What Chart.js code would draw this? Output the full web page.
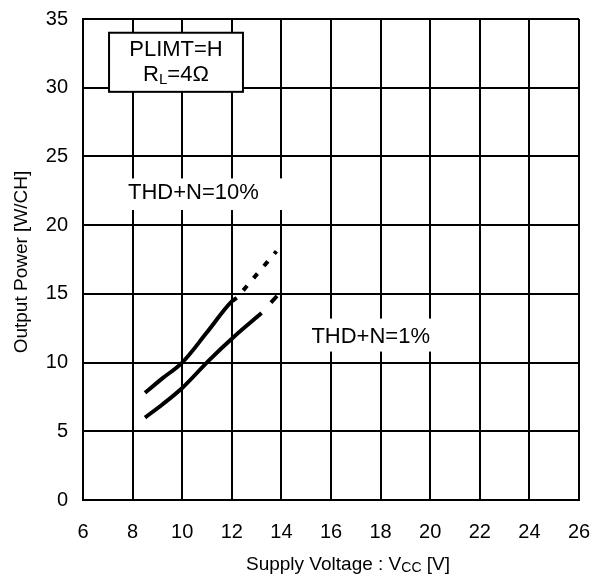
<!DOCTYPE html>
<html>
<head>
<meta charset="utf-8">
<script src="https://cdn.jsdelivr.net/npm/chart.js@4.4.0/dist/chart.umd.min.js"></script>
<style>
  html, body { margin: 0; padding: 0; background: #fff; }
  #wrap { width: 591px; height: 577px; }
</style>
</head>
<body>
<div id="wrap"><canvas id="chart" width="591" height="577"></canvas></div>
<script>
// curves (Vcc in V, Pout in W/CH)
var vcc10 = [8.5, 9.2, 10, 11, 12, 12.2];
var pout10 = [7.8, 8.85, 10.0, 12.2, 14.45, 14.7];
var vcc10ext = [12.2, 13.8];
var pout10ext = [14.7, 18.1];

var vcc1 = [8.5, 9.2, 10, 11.1, 12.1, 13.2];
var pout1 = [6.0, 6.95, 8.15, 10.2, 11.9, 13.6];
var vcc1ext = [13.2, 13.9];
var pout1ext = [13.6, 15.0];

var xTicks = [6, 8, 10, 12, 14, 16, 18, 20, 22, 24, 26];
var yTicks = [0, 5, 10, 15, 20, 25, 30, 35];

var FONT = '"Liberation Sans", Arial, sans-serif';

function pts(xs, ys) {
    var out = [];
    for (var i = 0; i < xs.length; i++) out.push({ x: xs[i], y: ys[i] });
    return out;
}

// white label boxes and text placed in data coordinates
var labels = [
    { x0: 7.05, x1: 12.45, y0: 29.7, y1: 34.0, border: true },
    { x0: 7.5, x1: 14.2, y0: 21.1, y1: 23.4, border: false, text: 'THD+N=10%', tx: 10.45, ty: 22.35 },
    { x0: 14.8, x1: 20.2, y0: 10.8, y1: 13.2, border: false, text: 'THD+N=1%', tx: 17.6, ty: 11.9 }
];

var notes = {
    id: 'notes',
    beforeDatasetsDraw: function (chart) {
        var ctx = chart.ctx, xs = chart.scales.x, ys = chart.scales.y;
        ctx.save();
        labels.forEach(function (b) {
            var l = xs.getPixelForValue(b.x0), r = xs.getPixelForValue(b.x1);
            var t = ys.getPixelForValue(b.y1), btm = ys.getPixelForValue(b.y0);
            ctx.fillStyle = '#fff';
            ctx.fillRect(l, t, r - l, btm - t);
            if (b.border) {
                ctx.strokeStyle = '#000';
                ctx.lineWidth = 2;
                ctx.strokeRect(l, t, r - l, btm - t);
            }
            if (b.text) {
                ctx.fillStyle = '#000';
                ctx.font = '22px ' + FONT;
                ctx.textAlign = 'center';
                ctx.textBaseline = 'middle';
                ctx.fillText(b.text, xs.getPixelForValue(b.tx), ys.getPixelForValue(b.ty));
            }
        });
        // PLIMT box text
        ctx.fillStyle = '#000';
        ctx.font = '22px ' + FONT;
        ctx.textAlign = 'center';
        ctx.textBaseline = 'middle';
        var cx = xs.getPixelForValue(9.75);
        ctx.fillText('PLIMT=H', cx, ys.getPixelForValue(32.75));
        // R_L=4Ω with subscript
        var y2 = ys.getPixelForValue(30.95);
        var wR = ctx.measureText('R').width;
        ctx.font = '15px ' + FONT;
        var wL = ctx.measureText('L').width;
        ctx.font = '22px ' + FONT;
        var wRest = ctx.measureText('=4Ω').width;
        var sx = cx - (wR + wL + wRest) / 2;
        ctx.textAlign = 'left';
        ctx.fillText('R', sx, y2);
        ctx.font = '15px ' + FONT;
        ctx.fillText('L', sx + wR, y2 + 5);
        ctx.font = '22px ' + FONT;
        ctx.fillText('=4Ω', sx + wR + wL, y2);
        ctx.restore();
    },
    afterDraw: function (chart) {
        var ctx = chart.ctx;
        ctx.save();
        ctx.fillStyle = '#000';
        ctx.textBaseline = 'middle';
        // x title with subscript
        ctx.font = '19px ' + FONT;
        var a = 'Supply Voltage : V', c = ' [V]';
        var wa = ctx.measureText(a).width, wc = ctx.measureText(c).width;
        ctx.font = '14px ' + FONT;
        var wb = ctx.measureText('CC').width;
        var x = 348 - (wa + wb + wc) / 2, y = 565;
        ctx.textAlign = 'left';
        ctx.font = '19px ' + FONT;
        ctx.fillText(a, x, y);
        ctx.font = '14px ' + FONT;
        ctx.fillText('CC', x + wa, y + 3);
        ctx.font = '19px ' + FONT;
        ctx.fillText(c, x + wa + wb, y);
        // y title
        ctx.translate(22, 262);
        ctx.rotate(-Math.PI / 2);
        ctx.textAlign = 'center';
        ctx.fillText('Output Power [W/CH]', 0, 0);
        ctx.restore();
    }
};

var lineStyle = {
    borderColor: '#000',
    borderWidth: 4,
    pointRadius: 0,
    fill: false,
    cubicInterpolationMode: 'monotone',
    borderCapStyle: 'butt'
};

new Chart(document.getElementById('chart'), {
    type: 'line',
    data: {
        datasets: [
            Object.assign({ label: 'THD+N=10%', data: pts(vcc10, pout10) }, lineStyle),
            Object.assign({ label: 'THD+N=10% ext', data: pts(vcc10ext, pout10ext), borderDash: [6, 10], borderDashOffset: 6 }, lineStyle),
            Object.assign({ label: 'THD+N=1%', data: pts(vcc1, pout1) }, lineStyle),
            Object.assign({ label: 'THD+N=1% ext', data: pts(vcc1ext, pout1ext), borderDash: [9, 14], borderDashOffset: 9 }, lineStyle)
        ]
    },
    options: {
        responsive: false,
        animation: false,
        layout: { padding: { top: 19, right: 12, left: 0, bottom: 0 } },
        plugins: { legend: { display: false }, tooltip: { enabled: false } },
        scales: {
            x: {
                type: 'linear',
                min: 6, max: 26,
                afterBuildTicks: function (s) { s.ticks = xTicks.map(function (v) { return { value: v }; }); },
                afterFit: function (s) { s.height = 77; s.paddingLeft = 0; s.paddingRight = 0; },
                ticks: { color: '#000', font: { family: FONT, size: 20 }, padding: 20 },
                grid: { color: '#000', lineWidth: 2, drawTicks: false },
                border: { color: '#000', width: 2 }
            },
            y: {
                min: 0, max: 35,
                afterBuildTicks: function (s) { s.ticks = yTicks.map(function (v) { return { value: v }; }); },
                afterFit: function (s) { s.width = 83; s.paddingTop = 0; s.paddingBottom = 0; },
                ticks: { color: '#000', font: { family: FONT, size: 20 }, padding: 15 },
                grid: { color: '#000', lineWidth: 2, drawTicks: false },
                border: { color: '#000', width: 2 }
            }
        }
    },
    plugins: [notes]
});
</script>
</body>
</html>
